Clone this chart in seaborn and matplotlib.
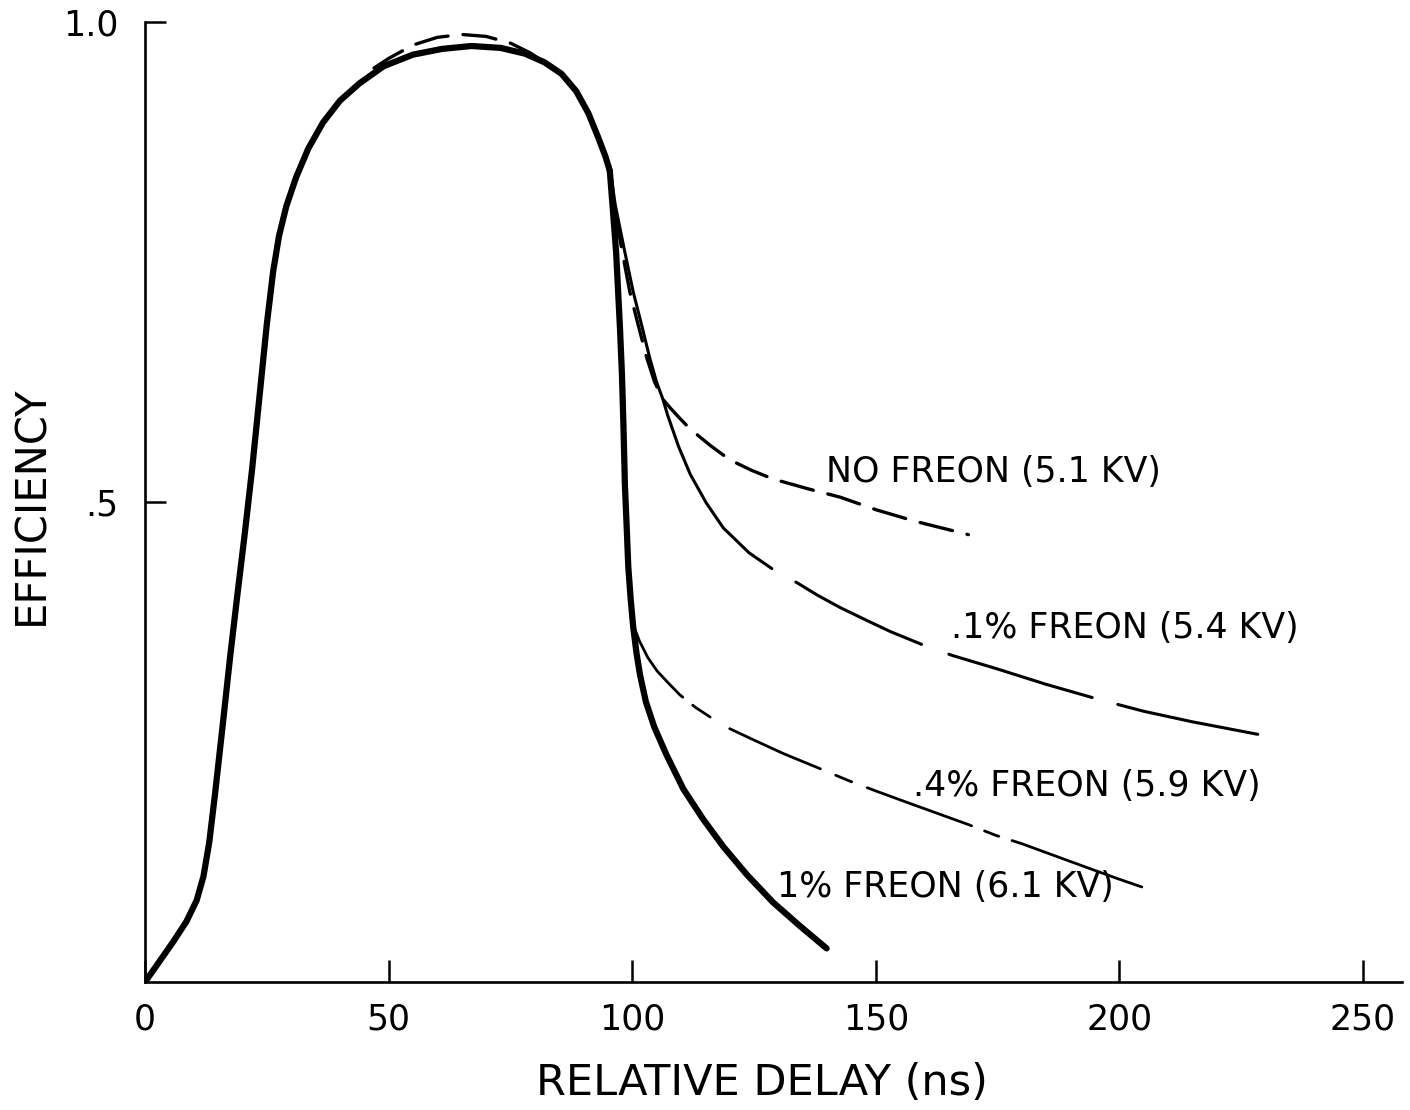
import matplotlib
matplotlib.use("Agg")
import matplotlib.pyplot as plt
import pandas as pd
import seaborn as sns

# ---------------- data ----------------
# common rising edge and plateau (all gas mixtures)
common_x = [0, 2.5, 5.8, 8.5, 10.6, 12.0, 13.2, 14.4, 16.0, 17.5, 19.0, 20.5, 22.0, 23.5,
            25.0, 26.3, 27.5, 29.0, 31.0, 33.5, 36.5, 40.0, 44.0, 49.0, 55.0, 61.0, 67.0,
            73.0, 78.0, 82.0, 85.5, 88.5, 91.0, 93.0, 94.5, 95.4]
common_y = [0, 0.018, 0.042, 0.063, 0.085, 0.110, 0.146, 0.197, 0.270, 0.340, 0.405, 0.468,
            0.535, 0.610, 0.685, 0.740, 0.777, 0.808, 0.838, 0.868, 0.895, 0.918, 0.936,
            0.954, 0.966, 0.972, 0.975, 0.973, 0.967, 0.958, 0.946, 0.928, 0.905, 0.880,
            0.860, 0.845]

# no freon: slightly higher plateau (dashed arc) and slow tail
nofreon_top_x = [47, 50, 55, 60, 65, 70, 75, 79, 82]
nofreon_top_y = [0.952, 0.962, 0.976, 0.984, 0.987, 0.985, 0.978, 0.968, 0.958]
nofreon_tail_x = [95.2, 96.2, 97.8, 99.5, 101.3, 103.0, 104.6, 106.3, 107.8, 109.8, 111.9,
                  116, 120, 124.5, 128.9, 135.9, 142.7, 150, 158, 169]
nofreon_tail_y = [0.850, 0.810, 0.765, 0.719, 0.683, 0.650, 0.625, 0.607, 0.598, 0.587, 0.576,
                  0.559, 0.544, 0.533, 0.524, 0.514, 0.505, 0.492, 0.480, 0.466]

# 0.1 % freon
f01_x = [95.4, 96.5, 98.3, 100.2, 102.0, 103.6, 105.0, 106.3, 107.3, 109.5, 111.9, 115.2,
         118.7, 124, 129.7, 133.8, 138, 142.7, 148, 153, 160.7, 165.8, 175, 185, 196,
         205, 215, 228.4]
f01_y = [0.850, 0.810, 0.765, 0.719, 0.683, 0.650, 0.625, 0.607, 0.590, 0.558, 0.529, 0.499,
         0.473, 0.447, 0.427, 0.416, 0.403, 0.390, 0.377, 0.365, 0.349, 0.340, 0.326, 0.310,
         0.294, 0.282, 0.271, 0.258]

# 0.4 % freon
f04_x = [100.2, 101.5, 103.2, 105.1, 107.5, 109.8, 113, 118.7, 125, 131, 137.7, 144.3,
         150, 157, 163, 169, 174.5, 180, 187, 194, 200, 204.6]
f04_y = [0.372, 0.355, 0.338, 0.324, 0.311, 0.299, 0.286, 0.267, 0.252, 0.238, 0.224, 0.210,
         0.199, 0.186, 0.175, 0.164, 0.153, 0.144, 0.131, 0.118, 0.107, 0.099]

# 1 % freon
f1_x = [95.4, 96.1, 96.7, 97.1, 97.5, 97.9, 98.2, 98.5, 98.9, 99.2, 99.7, 100.2, 100.9,
        101.6, 102.8, 104.5, 107.0, 110.5, 114.5, 118.7, 123.5, 128.9, 134.5, 139.9]
f1_y = [0.845, 0.800, 0.760, 0.720, 0.680, 0.632, 0.580, 0.518, 0.470, 0.432, 0.398, 0.370,
        0.342, 0.320, 0.292, 0.266, 0.237, 0.201, 0.170, 0.141, 0.112, 0.083, 0.058, 0.035]

x_ticks = [0, 50, 100, 150, 200, 250]
x_tick_labels = ["0", "50", "100", "150", "200", "250"]
y_ticks = [0.5, 1.0]
y_tick_labels = [".5", "1.0"]

labels = ["NO FREON (5.1 KV)", ".1% FREON (5.4 KV)", ".4% FREON (5.9 KV)", "1% FREON (6.1 KV)"]
label_x = [139.8, 165.5, 157.6, 129.8]
label_y = [0.521, 0.358, 0.194, 0.089]

# ---------------- plotting ----------------
sns.set_theme(style="ticks")
plt.rcParams["font.family"] = ["DejaVu Sans"]

fig = plt.figure(figsize=(14.1, 11.1), dpi=100)
ax = fig.add_axes([145 / 1410, 1 - 982 / 1110, (1402 - 145) / 1410, 960 / 1110])


def draw(xs, ys, lw, ls="-"):
    df = pd.DataFrame({"delay": xs, "eff": ys})
    sns.lineplot(data=df, x="delay", y="eff", ax=ax, color="black", linewidth=lw,
                 linestyle=ls, estimator=None, sort=False, legend=False,
                 solid_capstyle="round", dash_capstyle="round", solid_joinstyle="round",
                 dash_joinstyle="round")


draw(common_x, common_y, 4.5)
draw(f1_x, f1_y, 4.5)
draw(nofreon_top_x, nofreon_top_y, 2.4, (0, (10, 4.5)))
draw(nofreon_tail_x, nofreon_tail_y, 2.4, (0, (10, 4.5)))
draw(f01_x, f01_y, 2.2, (0, (146, 9, 46, 9.5, 49, 8.7, 80, 30)))
draw(f04_x, f04_y, 2.0, (0, (32, 4.6, 7.6, 8.2, 35.7, 6, 6.2, 6, 40, 5, 5.5, 5, 80, 20)))

for t, tx, ty in zip(labels, label_x, label_y):
    ax.text(tx, ty, t, fontsize=25, color="black", ha="left", va="baseline")

ax.set_xlim(0, 258)
ax.set_ylim(0, 1.0)
ax.set_xticks(x_ticks)
ax.set_xticklabels(x_tick_labels)
ax.set_yticks(y_ticks)
ax.set_yticklabels(y_tick_labels)

ax.tick_params(axis="x", direction="in", length=15.5, width=1.8, labelsize=25, pad=15,
               colors="black")
ax.tick_params(axis="y", direction="in", length=15, width=1.8, labelsize=25, pad=19,
               colors="black")

for side in ["top", "right"]:
    ax.spines[side].set_visible(False)
for side in ["left", "bottom"]:
    ax.spines[side].set_linewidth(1.9)
    ax.spines[side].set_color("black")

ax.set_xlabel("RELATIVE DELAY (ns)", fontsize=31, color="black")
ax.set_ylabel("EFFICIENCY", fontsize=30, color="black")
ax.xaxis.set_label_coords(0.491, -0.083)
ax.yaxis.set_label_coords(-0.074, 0.497)
ax.set_facecolor("white")
fig.patch.set_facecolor("white")

fig.savefig("out.png", dpi=100)
